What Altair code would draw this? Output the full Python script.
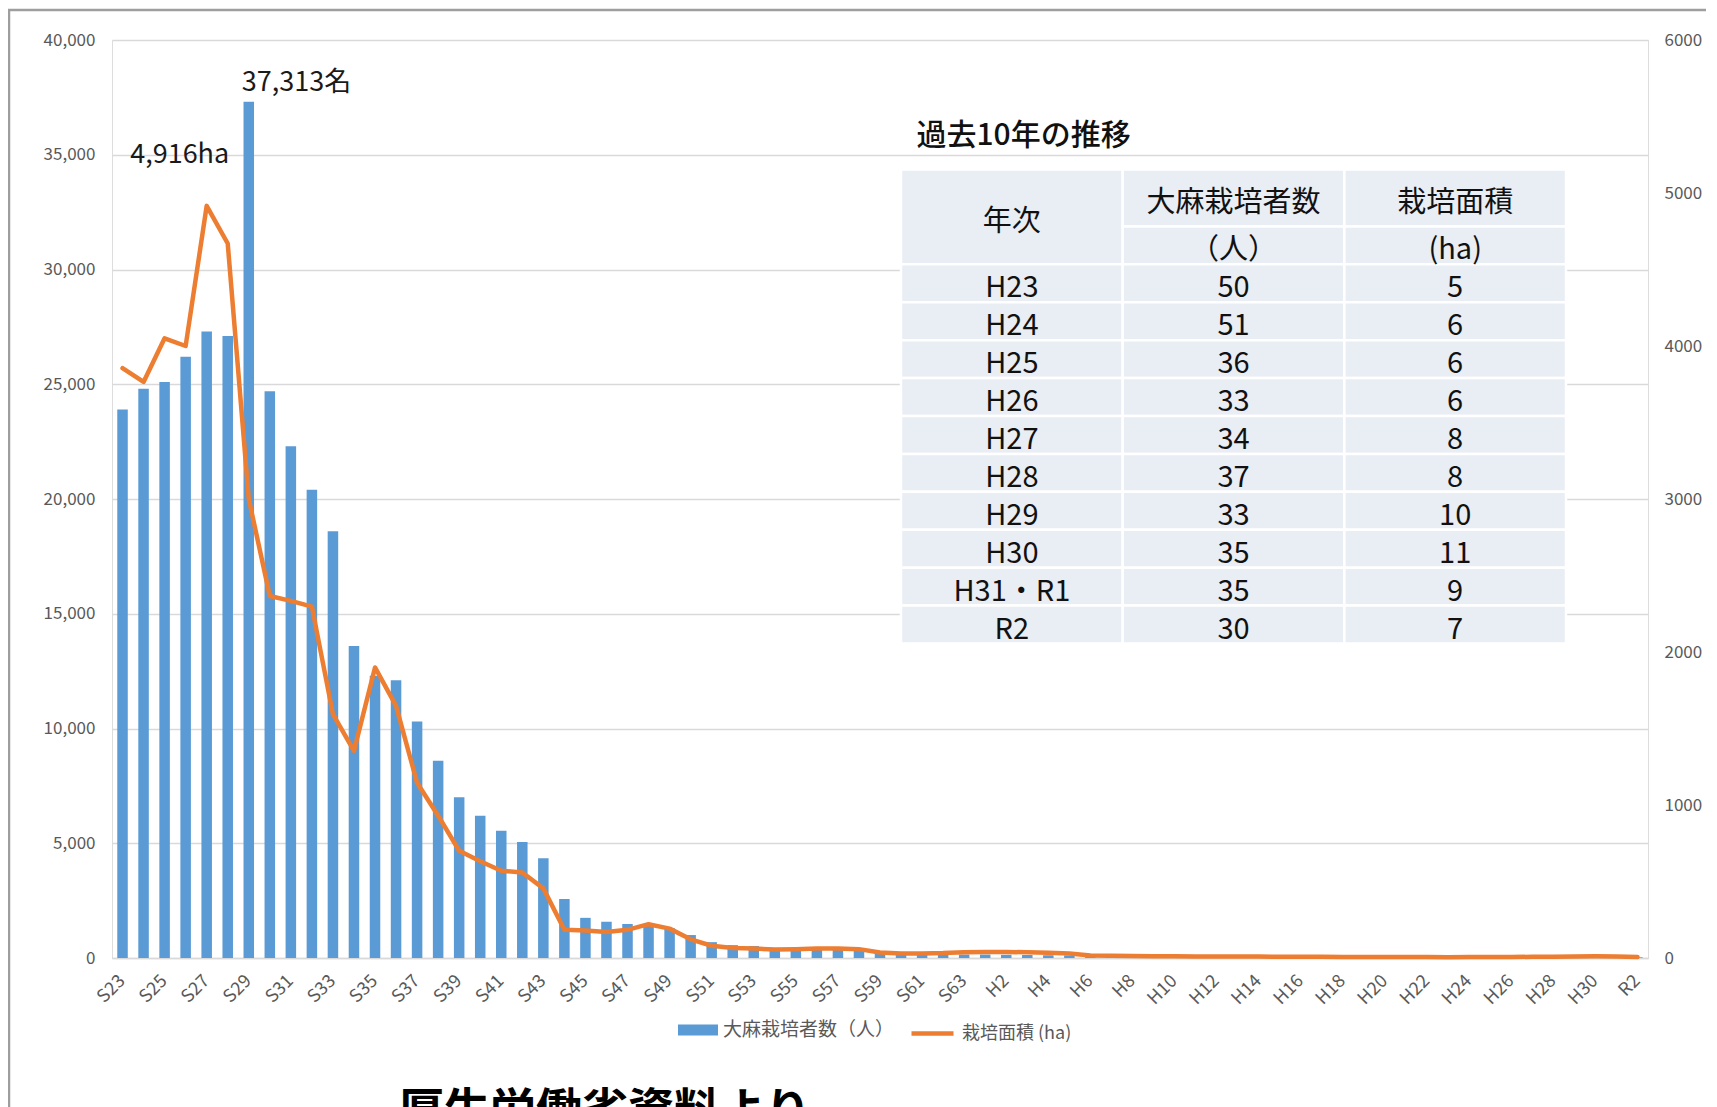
import altair as alt
import pandas as pd

FONT = "Noto Sans CJK JP"

# ---------------- data ----------------
categories = [
    "S23", "S24", "S25", "S26", "S27", "S28", "S29", "S30", "S31", "S32",
    "S33", "S34", "S35", "S36", "S37", "S38", "S39", "S40", "S41", "S42",
    "S43", "S44", "S45", "S46", "S47", "S48", "S49", "S50", "S51", "S52",
    "S53", "S54", "S55", "S56", "S57", "S58", "S59", "S60", "S61", "S62",
    "S63", "H1", "H2", "H3", "H4", "H5", "H6", "H7", "H8", "H9",
    "H10", "H11", "H12", "H13", "H14", "H15", "H16", "H17", "H18", "H19",
    "H20", "H21", "H22", "H23", "H24", "H25", "H26", "H27", "H28", "H29",
    "H30", "R1", "R2",
]
tick_labels = [
    "S23", "S25", "S27", "S29", "S31", "S33", "S35", "S37", "S39", "S41",
    "S43", "S45", "S47", "S49", "S51", "S53", "S55", "S57", "S59", "S61",
    "S63", "H2", "H4", "H6", "H8", "H10", "H12", "H14", "H16", "H18",
    "H20", "H22", "H24", "H26", "H28", "H30", "R2",
]
people = [
    23900, 24800, 25100, 26200, 27300, 27100, 37313, 24700, 22300, 20400,
    18600, 13600, 12300, 12100, 10300, 8600, 7000, 6200, 5550, 5050,
    4350, 2570, 1750, 1580, 1480, 1420, 1300, 1000, 690, 560,
    520, 430, 420, 420, 410, 380, 240, 170, 160, 160,
    150, 150, 140, 130, 120, 110, 100, 95, 90, 85,
    80, 75, 72, 70, 68, 66, 64, 62, 60, 58,
    56, 54, 52, 50, 51, 36, 33, 34, 37, 33,
    35, 35, 30,
]
area = [
    3855, 3765, 4050, 4000, 4916, 4670, 3000, 2366, 2334, 2297,
    1594, 1354, 1899, 1648, 1145, 930, 701, 632, 570, 559,
    455, 184, 180, 170, 184, 221, 192, 122, 80, 66,
    62, 55, 58, 62, 62, 58, 36, 30, 30, 32,
    38, 40, 40, 37, 35, 30, 16, 14, 13, 12,
    11, 10, 10, 9, 9, 8, 8, 8, 7, 7,
    6, 6, 6, 5, 6, 6, 6, 8, 8, 10,
    11, 9, 7,
]
series_people = "大麻栽培者数（人）"
series_area = "栽培面積 (ha)"

left_ticks = [0, 5000, 10000, 15000, 20000, 25000, 30000, 35000, 40000]
right_ticks = [0, 1000, 2000, 3000, 4000, 5000, 6000]

# annotations
ann_people_cat = ["S29"]
ann_people_val = [37313]
ann_people_txt = ["37,313名"]
ann_area_cat = ["S27"]
ann_area_val = [4916]
ann_area_txt = ["4,916ha"]

# table (過去10年の推移)
table_title = "過去10年の推移"
table_head = ["年次", "大麻栽培者数", "栽培面積"]
table_units = ["（人）", "(ha)"]
table_years = ["H23", "H24", "H25", "H26", "H27", "H28", "H29", "H30", "H31・R1", "R2"]
table_people = [50, 51, 36, 33, 34, 37, 33, 35, 35, 30]
table_area = [5, 6, 6, 6, 8, 8, 10, 11, 9, 7]

source_text = "厚生労働省資料より"

# ---------------- frames ----------------
df = pd.DataFrame({
    "year": categories,
    "people": people,
    "area": area,
    "s1": series_people,
    "s2": series_area,
})
ann_p = pd.DataFrame({"year": ann_people_cat, "v": ann_people_val, "t": ann_people_txt})
ann_a = pd.DataFrame({"year": ann_area_cat, "v": ann_area_val, "t": ann_area_txt})

rows = []
# header cells (row units: header1 0-1.5, header2 1.5-2.5, data rows 1 unit each)
rows.append(dict(x0=0, x1=1, y0=0, y1=2.5, label=table_head[0]))
rows.append(dict(x0=1, x1=2, y0=0, y1=1.5, label=table_head[1]))
rows.append(dict(x0=2, x1=3, y0=0, y1=1.5, label=table_head[2]))
rows.append(dict(x0=1, x1=2, y0=1.5, y1=2.5, label=table_units[0]))
rows.append(dict(x0=2, x1=3, y0=1.5, y1=2.5, label=table_units[1]))
for i, (yr, p, a) in enumerate(zip(table_years, table_people, table_area)):
    y0 = 2.5 + i
    rows.append(dict(x0=0, x1=1, y0=y0, y1=y0 + 1, label=yr))
    rows.append(dict(x0=1, x1=2, y0=y0, y1=y0 + 1, label=str(p)))
    rows.append(dict(x0=2, x1=3, y0=y0, y1=y0 + 1, label=str(a)))
tbl = pd.DataFrame(rows)
tbl["xc"] = (tbl["x0"] + tbl["x1"]) / 2
tbl["yc"] = (tbl["y0"] + tbl["y1"]) / 2
title_df = pd.DataFrame({"x": [0.07], "y": [-0.95], "t": [table_title]})

# ---------------- chart ----------------
W, H = 1536, 918

x_enc = alt.X(
    "year:N", sort=categories, title=None,
    scale=alt.Scale(paddingInner=0.5, paddingOuter=0.25),
    axis=alt.Axis(
        values=tick_labels, labelAngle=-45, labelAlign="right", labelBaseline="middle",
        labelFontSize=18, labelColor="#595959", labelFont=FONT, labelPadding=20,
        ticks=False, domain=True, domainColor="#d9d9d9", domainWidth=1.5, grid=False,
        labelOverlap=False,
    ),
)

bars = alt.Chart(df).mark_bar().encode(
    x=x_enc,
    y=alt.Y(
        "people:Q", title=None,
        scale=alt.Scale(domain=[0, 40000], nice=False),
        axis=alt.Axis(
            orient="left", values=left_ticks, format=",d", labelFontSize=17,
            labelColor="#595959", labelFont=FONT, ticks=False, domain=False,
            grid=True, gridColor="#d9d9d9", gridWidth=1.3, labelPadding=17,
        ),
    ),
    color=alt.Color(
        "s1:N",
        scale=alt.Scale(domain=[series_people], range=["#5b9bd5"]),
        legend=alt.Legend(
            title=None, orient="none", legendX=566, legendY=970, padding=0,
            symbolType="M-1,-0.28H1V0.28H-1Z", symbolSize=1600, symbolStrokeWidth=0,
            labelFontSize=19, labelColor="#595959", labelFont=FONT, labelOffset=5,
            labelLimit=400,
        ),
    ),
)

line = alt.Chart(df).mark_line(strokeWidth=4.5, strokeJoin="round", strokeCap="round").encode(
    x=x_enc,
    y=alt.Y(
        "area:Q", title=None,
        scale=alt.Scale(domain=[0, 6000], nice=False),
        axis=alt.Axis(
            orient="right", values=right_ticks, format="d", labelFontSize=17,
            labelColor="#595959", labelFont=FONT, ticks=False, domain=False,
            grid=False, labelPadding=16,
        ),
    ),
    stroke=alt.Stroke(
        "s2:N",
        scale=alt.Scale(domain=[series_area], range=["#ed7d31"]),
        legend=alt.Legend(
            title=None, orient="none", legendX=797, legendY=970, padding=0,
            symbolType="stroke", symbolSize=1764, symbolStrokeWidth=4.5,
            labelFontSize=18, labelColor="#595959", labelFont=FONT, labelOffset=6,
            labelLimit=400,
        ),
    ),
)

ann1 = alt.Chart(ann_p).mark_text(
    align="left", baseline="middle", dx=-7, dy=-19, fontSize=27, font=FONT, color="#1a1a1a"
).encode(
    x=x_enc,
    y=alt.Y("v:Q", scale=alt.Scale(domain=[0, 40000], nice=False), axis=None),
    text="t:N",
)
ann2 = alt.Chart(ann_a).mark_text(
    align="center", baseline="middle", dx=-27, dy=-51, fontSize=27, font=FONT, color="#1a1a1a"
).encode(
    x=x_enc,
    y=alt.Y("v:Q", scale=alt.Scale(domain=[0, 6000], nice=False), axis=None),
    text="t:N",
)

main = alt.layer(bars, line, ann1, ann2).resolve_scale(y="independent")

tx = alt.Scale(domain=[0, 3], range=[789, 1454], nice=False, zero=False)
ty = alt.Scale(domain=[0, 12.5], range=[129.5, 603.5], nice=False, zero=False)

cells = alt.Chart(tbl).mark_rect(fill="#e9edf4", stroke="white", strokeWidth=2.5).encode(
    x=alt.X("x0:Q", scale=tx, axis=None), x2="x1:Q",
    y=alt.Y("y0:Q", scale=ty, axis=None), y2="y1:Q",
)
cell_text = alt.Chart(tbl).mark_text(
    fontSize=29, font=FONT, color="#111111", baseline="middle", dy=5
).encode(
    x=alt.X("xc:Q", scale=tx, axis=None),
    y=alt.Y("yc:Q", scale=ty, axis=None),
    text="label:N",
)
title_text = alt.Chart(title_df).mark_text(
    align="left", baseline="middle", fontSize=30, font=FONT, fontWeight=500, color="#111111", dy=3
).encode(
    x=alt.X("x:Q", scale=tx, axis=None),
    y=alt.Y("y:Q", scale=ty, axis=None),
    text="t:N",
)
table = alt.layer(cells, cell_text, title_text)

# decoration: outer frame and cut-off source note
frame_left = alt.Chart(pd.DataFrame({"a": [0]})).mark_rule(color="#9e9e9e", strokeWidth=2.5).encode(
    x=alt.value(-103), y=alt.value(-30), y2=alt.value(1200)
)
frame_top = alt.Chart(pd.DataFrame({"a": [0]})).mark_rule(color="#9e9e9e", strokeWidth=2.5).encode(
    x=alt.value(-104), x2=alt.value(1700), y=alt.value(-30)
)
source = alt.Chart(pd.DataFrame({"t": [source_text]})).mark_text(
    align="left", baseline="top", fontSize=46, font=FONT, fontWeight="bold", color="#000000"
).encode(x=alt.value(286), y=alt.value(1050), text="t:N")

chart = alt.layer(main, table, frame_left, frame_top, source).resolve_scale(
    x="independent", y="independent"
).properties(
    width=W, height=H,
    autosize=alt.AutoSizeParams(type="none"),
    padding={"left": 104, "top": 32, "right": 58, "bottom": 170},
).configure_view(stroke=None).configure(background="white")

chart.save("out.html", embed_options={"renderer": "svg", "actions": False})
